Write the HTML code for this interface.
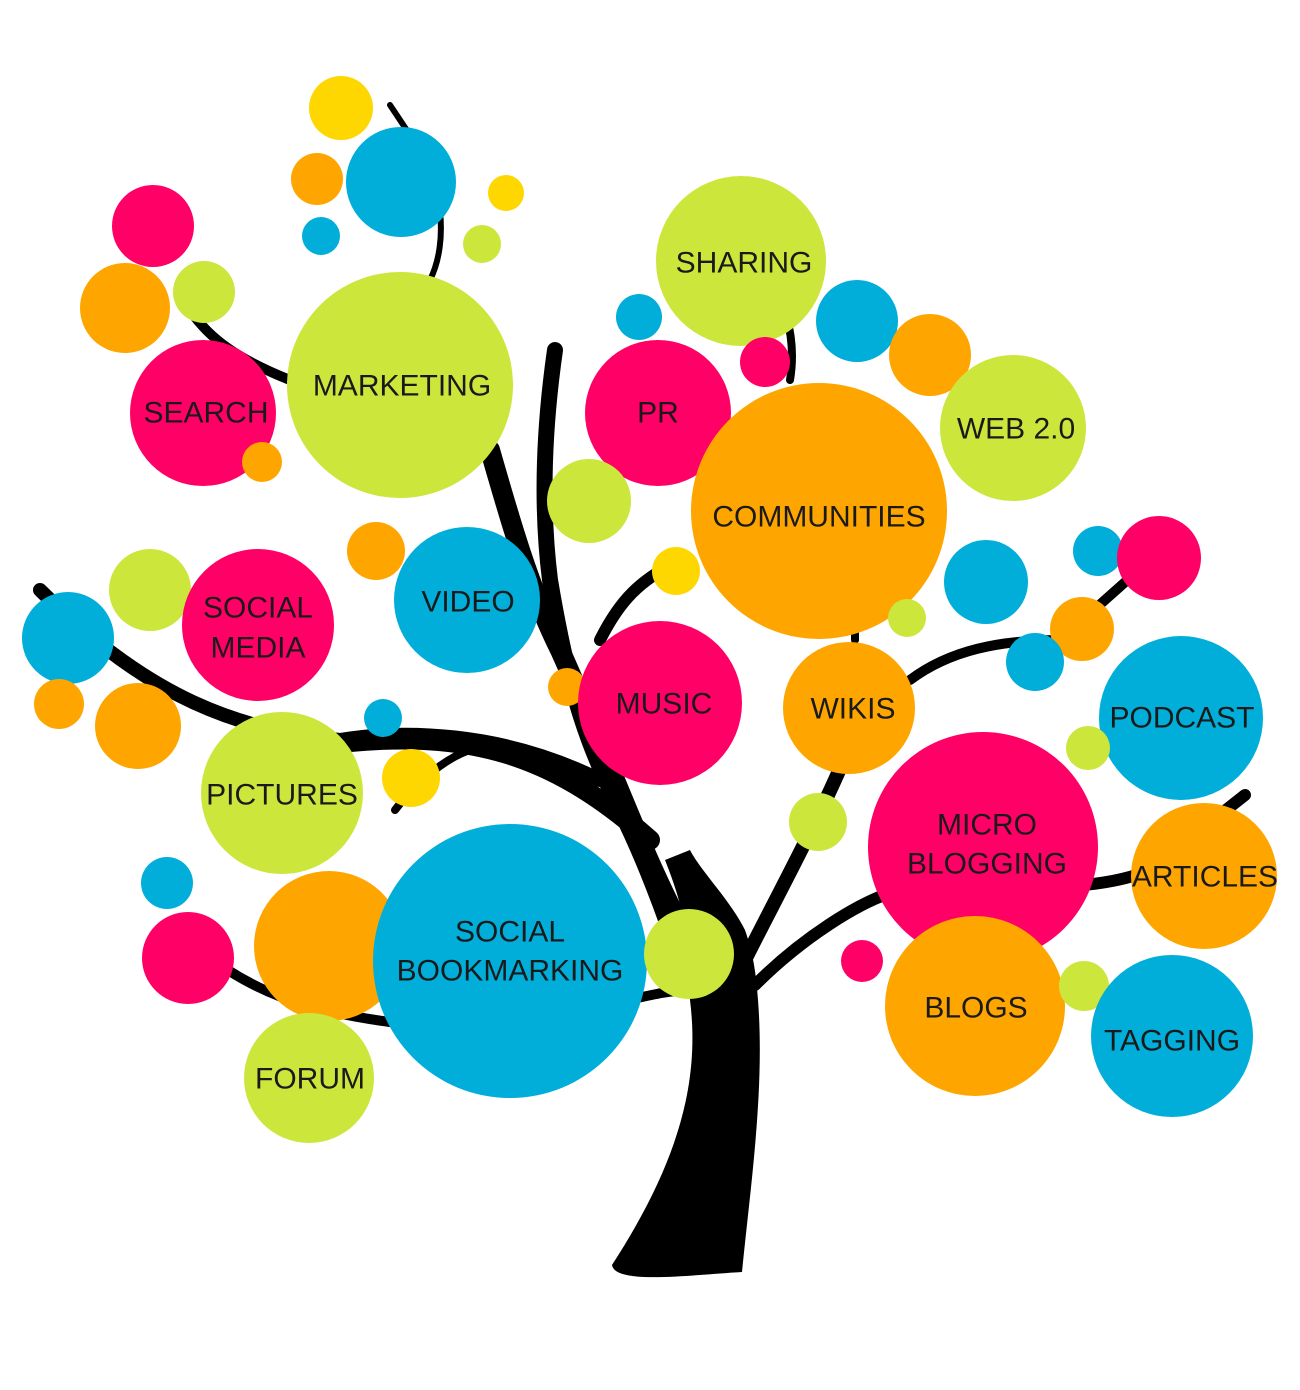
<!DOCTYPE html>
<html><head><meta charset="utf-8"><style>
html,body{margin:0;padding:0;background:#fff}
svg{display:block}
text{font-family:"Liberation Sans",sans-serif;font-size:30px;fill:#1a1a1a;text-anchor:middle;dominant-baseline:central}
</style></head><body>
<svg width="1300" height="1390" viewBox="0 0 1300 1390">
<g fill="none" stroke="#000" stroke-linecap="round">
<path d="M680 960 C660 900 640 850 620 810 C590 750 570 700 550 580 C540 500 545 420 555 350" stroke-width="16"/>
<path d="M700 960 C650 880 610 760 560 650 C530 590 510 520 490 450" stroke-width="20"/>
<path d="M650 840 C560 760 480 730 350 742" stroke-width="20"/>
<path d="M600 780 C500 730 400 730 340 740 C240 730 150 700 40 590" stroke-width="14"/>
<path d="M470 750 C440 760 410 790 395 810" stroke-width="8"/>
<path d="M690 990 C640 990 560 1030 390 1022 C300 1010 250 990 200 950" stroke-width="10"/>
<path d="M745 960 C780 890 830 800 860 720" stroke-width="14"/>
<path d="M755 985 C800 940 860 900 900 890 C960 880 1080 900 1150 870 L1245 795" stroke-width="12"/>
<path d="M910 680 C950 650 1000 640 1060 640 L1150 560" stroke-width="10"/>
<path d="M600 640 C620 600 640 580 680 560" stroke-width="12"/>
<path d="M855 640 L855 600" stroke-width="8"/>
<path d="M290 380 C240 360 210 340 190 310" stroke-width="10"/>
<path d="M430 280 C450 240 440 180 420 150 L390 105" stroke-width="6"/>
<path d="M790 380 C795 350 790 320 780 300" stroke-width="8"/>
</g>
<path d="M665 860 C685 910 692 950 690 1000 C700 1080 680 1160 612 1265 C615 1285 690 1275 742 1272 C750 1190 765 1090 758 1000 C756 970 752 950 745 930 C730 900 700 870 690 850 Z" fill="#000"/>
<g>
<circle cx="341" cy="108" r="32" fill="#FFD700"/>
<circle cx="401" cy="182" r="55" fill="#00AED9"/>
<circle cx="317" cy="179" r="26" fill="#FFA500"/>
<circle cx="321" cy="236" r="19" fill="#00AED9"/>
<circle cx="506" cy="193" r="18" fill="#FFD700"/>
<circle cx="482" cy="244" r="19" fill="#CCE63C"/>
<circle cx="153" cy="226" r="41" fill="#FF0066"/>
<circle cx="125" cy="308" r="45" fill="#FFA500"/>
<circle cx="204" cy="292" r="31" fill="#CCE63C"/>
<circle cx="203" cy="413" r="73" fill="#FF0066"/>
<circle cx="262" cy="462" r="20" fill="#FFA500"/>
<circle cx="400" cy="385" r="113" fill="#CCE63C"/>
<circle cx="741" cy="261" r="85" fill="#CCE63C"/>
<circle cx="639" cy="317" r="23" fill="#00AED9"/>
<circle cx="857" cy="321" r="41" fill="#00AED9"/>
<circle cx="930" cy="355" r="41" fill="#FFA500"/>
<circle cx="1013" cy="428" r="73" fill="#CCE63C"/>
<circle cx="658" cy="413" r="73" fill="#FF0066"/>
<circle cx="765" cy="362" r="25" fill="#FF0066"/>
<circle cx="819" cy="511" r="128" fill="#FFA500"/>
<circle cx="589" cy="501" r="42" fill="#CCE63C"/>
<circle cx="676" cy="571" r="24" fill="#FFD700"/>
<circle cx="376" cy="551" r="29" fill="#FFA500"/>
<circle cx="467" cy="600" r="73" fill="#00AED9"/>
<circle cx="150" cy="590" r="41" fill="#CCE63C"/>
<circle cx="258" cy="625" r="76" fill="#FF0066"/>
<circle cx="68" cy="638" r="46" fill="#00AED9"/>
<circle cx="59" cy="704" r="25" fill="#FFA500"/>
<circle cx="138" cy="726" r="43" fill="#FFA500"/>
<circle cx="383" cy="718" r="19" fill="#00AED9"/>
<circle cx="282" cy="793" r="81" fill="#CCE63C"/>
<circle cx="411" cy="778" r="29" fill="#FFD700"/>
<circle cx="567" cy="687" r="19" fill="#FFA500"/>
<circle cx="660" cy="703" r="82" fill="#FF0066"/>
<circle cx="849" cy="708" r="66" fill="#FFA500"/>
<circle cx="907" cy="618" r="19" fill="#CCE63C"/>
<circle cx="986" cy="582" r="42" fill="#00AED9"/>
<circle cx="1098" cy="551" r="25" fill="#00AED9"/>
<circle cx="1159" cy="558" r="42" fill="#FF0066"/>
<circle cx="1082" cy="629" r="32" fill="#FFA500"/>
<circle cx="1035" cy="662" r="29" fill="#00AED9"/>
<circle cx="1181" cy="718" r="82" fill="#00AED9"/>
<circle cx="1088" cy="748" r="22" fill="#CCE63C"/>
<circle cx="818" cy="822" r="29" fill="#CCE63C"/>
<circle cx="1204" cy="876" r="73" fill="#FFA500"/>
<circle cx="983" cy="847" r="115" fill="#FF0066"/>
<circle cx="167" cy="883" r="26" fill="#00AED9"/>
<circle cx="188" cy="958" r="46" fill="#FF0066"/>
<circle cx="329" cy="946" r="75" fill="#FFA500"/>
<circle cx="510" cy="961" r="137" fill="#00AED9"/>
<circle cx="689" cy="954" r="45" fill="#CCE63C"/>
<circle cx="309" cy="1078" r="65" fill="#CCE63C"/>
<circle cx="862" cy="961" r="21" fill="#FF0066"/>
<circle cx="975" cy="1006" r="90" fill="#FFA500"/>
<circle cx="1084" cy="986" r="25" fill="#CCE63C"/>
<circle cx="1172" cy="1036" r="81" fill="#00AED9"/>
</g>
<text x="206" y="413">SEARCH</text>
<text x="402" y="386">MARKETING</text>
<text x="744" y="263">SHARING</text>
<text x="1016" y="429">WEB 2.0</text>
<text x="658" y="413">PR</text>
<text x="819" y="517">COMMUNITIES</text>
<text x="468" y="602">VIDEO</text>
<text x="258" y="608">SOCIAL</text>
<text x="258" y="648">MEDIA</text>
<text x="282" y="795">PICTURES</text>
<text x="664" y="704">MUSIC</text>
<text x="853" y="709">WIKIS</text>
<text x="1182" y="718">PODCAST</text>
<text x="987" y="825">MICRO</text>
<text x="987" y="864">BLOGGING</text>
<text x="1205" y="877">ARTICLES</text>
<text x="510" y="932">SOCIAL</text>
<text x="510" y="971">BOOKMARKING</text>
<text x="310" y="1079">FORUM</text>
<text x="976" y="1008">BLOGS</text>
<text x="1172" y="1041">TAGGING</text>
</svg>
</body></html>
